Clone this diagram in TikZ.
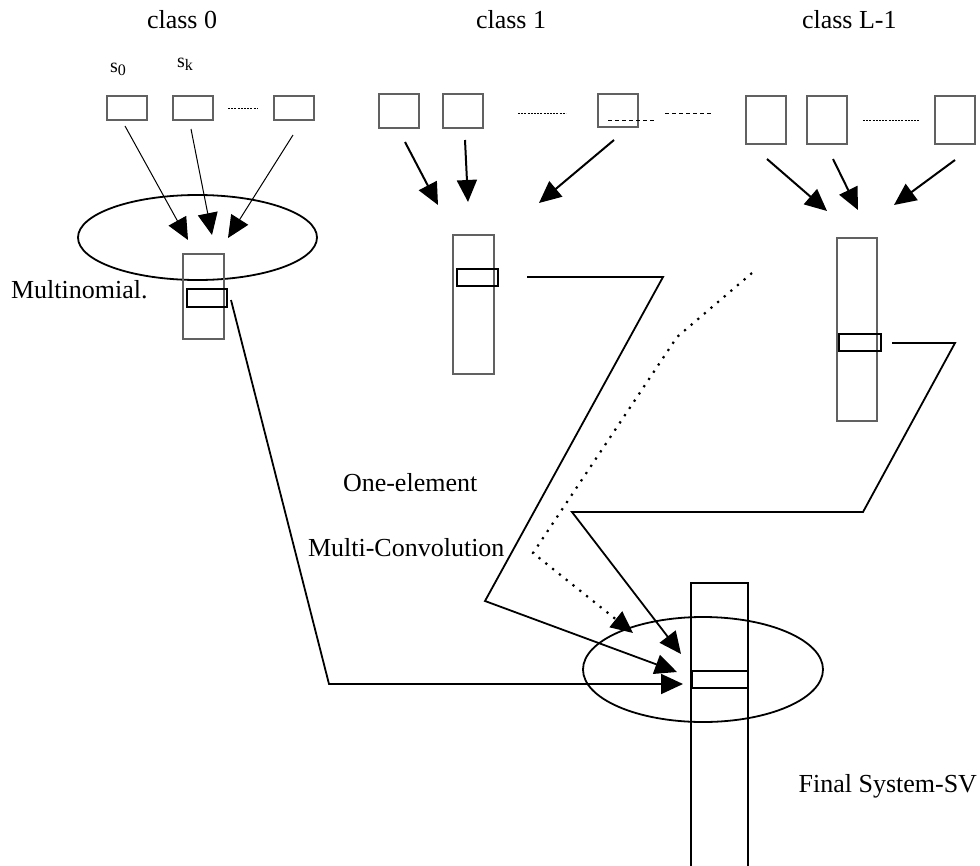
\documentclass[tikz,border=0pt]{standalone}
\usepackage{fontspec}
\setmainfont{Liberation Serif}
\usetikzlibrary{arrows.meta,shapes.geometric}

\begin{document}
\begin{tikzpicture}[x=1pt,y=-1pt,
  every node/.style={inner sep=0pt,outer sep=0pt},
  lbl/.style={font=\fontsize{26}{30}\selectfont,anchor=base west},
  idx/.style={font=\fontsize{20}{24}\selectfont,anchor=base west},
  slot/.style={draw=black!62,line width=1.2pt,rectangle,minimum width=40pt},
  column/.style={draw=black!62,line width=1.2pt,rectangle},
  cell/.style={draw=black,line width=2pt,rectangle},
  pool/.style={draw=black,line width=1.8pt,ellipse},
  gap/.style={line width=1pt,dash pattern=on 2pt off 1.2pt},
  head/.style={-{Triangle[length=22pt,width=20pt]}},
  thinarr/.style={line width=1pt,head},
  boldarr/.style={line width=2pt,head},
  link/.style={line width=1.8pt,head},
  dotlink/.style={line width=2.2pt,dash pattern=on 2.2pt off 6.5pt,head}]

\useasboundingbox (0,0) rectangle (980,865);

% ---------- headings ----------
\node[lbl] (h0) at (147,28) {class 0};
\node[lbl] (h1) at (476,28) {class 1};
\node[lbl] (hL) at (802,28) {class L-1};
\node[idx] (s0) at (110,72) {s\raisebox{-3pt}{\fontsize{16}{16}\selectfont 0}};
\node[idx] (sk) at (177,67) {s\raisebox{-3pt}{\fontsize{16}{16}\selectfont k}};

% ---------- class 0 ----------
\node[slot,minimum height=24pt] (a1) at (127,108) {};
\node[slot,minimum height=24pt] (a2) at (193,108) {};
\node[slot,minimum height=24pt] (a3) at (294,108) {};
\draw[gap] (228,108) -- (258,108);
\node[pool,minimum width=239pt,minimum height=85pt] (e0) at (197.5,237.5) {};
\node[column,minimum width=41pt,minimum height=85pt] (col0) at (203.5,296.5) {};
\node[cell,minimum width=40pt,minimum height=18pt] (r0) at (207,298) {};
\coordinate (a1s) at (125,126); \coordinate (a1t) at (188,240);
\coordinate (a2s) at (191,129); \coordinate (a2t) at (212,235);
\coordinate (a3s) at (293,135); \coordinate (a3t) at (228,238);
\draw[thinarr] (a1s) -- (a1t);
\draw[thinarr] (a2s) -- (a2t);
\draw[thinarr] (a3s) -- (a3t);

% ---------- class 1 ----------
\node[slot,minimum height=34pt] (b1) at (399,111) {};
\node[slot,minimum height=34pt] (b2) at (463,111) {};
\node[slot,minimum height=33pt] (b3) at (618,110.5) {};
\draw[gap] (518,113) -- (566,113);
\draw[line width=1pt,dash pattern=on 4pt off 3pt] (608,120) -- (655,120);
\draw[line width=1pt,dash pattern=on 4pt off 3pt] (665,113) -- (712,113);
\node[column,minimum width=41pt,minimum height=139pt] (col1) at (473.5,304.5) {};
\node[cell,minimum width=41pt,minimum height=17pt] (r1) at (477.5,277.5) {};
\coordinate (b1s) at (405,142); \coordinate (b1t) at (438,205);
\coordinate (b2s) at (465,140); \coordinate (b2t) at (468,202);
\coordinate (b3s) at (614,140); \coordinate (b3t) at (539,203);
\draw[boldarr] (b1s) -- (b1t);
\draw[boldarr] (b2s) -- (b2t);
\draw[boldarr] (b3s) -- (b3t);

% ---------- class L-1 ----------
\node[slot,minimum height=48pt] (c1) at (766,120) {};
\node[slot,minimum height=48pt] (c2) at (827,120) {};
\node[slot,minimum height=48pt] (c3) at (955,120) {};
\draw[gap] (863,120) -- (919,120);
\node[column,minimum width=40pt,minimum height=183pt] (colL) at (857,329.5) {};
\node[cell,minimum width=42pt,minimum height=17pt] (rL) at (860,342.5) {};
\coordinate (c1s) at (767,159); \coordinate (c1t) at (827,211);
\coordinate (c2s) at (833,159); \coordinate (c2t) at (858,210);
\coordinate (c3s) at (955,160); \coordinate (c3t) at (894,205);
\draw[boldarr] (c1s) -- (c1t);
\draw[boldarr] (c2s) -- (c2t);
\draw[boldarr] (c3s) -- (c3t);

% ---------- final system ----------
\node[pool,minimum width=240pt,minimum height=105pt] (ef) at (703,669.5) {};
\coordinate (fbl) at (691,866);
\coordinate (ftl) at (691,583);
\coordinate (ftr) at (748,583);
\coordinate (fbr) at (748,866);
\draw[line width=1.6pt] (fbl) -- (ftl) -- (ftr) -- (fbr);
\node[cell,minimum width=56pt,minimum height=17pt] (rf) at (720,679.5) {};

% ---------- convolution paths ----------
\coordinate (p0s) at (231,300); \coordinate (p0k) at (329,684);
\coordinate (p0t) at (683,684);
\draw[link] (p0s) -- (p0k) -- (p0t);

\coordinate (p1s) at (527,277); \coordinate (p1k1) at (663,277);
\coordinate (p1k2) at (485,601); \coordinate (p1t) at (677,672);
\draw[link] (p1s) -- (p1k1) -- (p1k2) -- (p1t);

\coordinate (pLs) at (892,343); \coordinate (pLk1) at (955,343);
\coordinate (pLk2) at (863,512); \coordinate (pLk3) at (572,512);
\coordinate (pLt) at (681,654);
\draw[link] (pLs) -- (pLk1) -- (pLk2) -- (pLk3) -- (pLt);

\coordinate (pds) at (752,273); \coordinate (pdk1) at (677,337);
\coordinate (pdk2) at (533,553); \coordinate (pdt) at (633,633);
\draw[dotlink] (pds) -- (pdk1) -- (pdk2) -- (pdt);

% ---------- labels ----------
\node[lbl] (lm) at (11,298) {Multinomial.};
\node[lbl] (lo) at (343,491) {One-element};
\node[lbl] (lc) at (308,556) {Multi-Convolution};
\node[lbl,anchor=base east] (lf) at (977,792) {Final System-SV};

\end{tikzpicture}
\end{document}
